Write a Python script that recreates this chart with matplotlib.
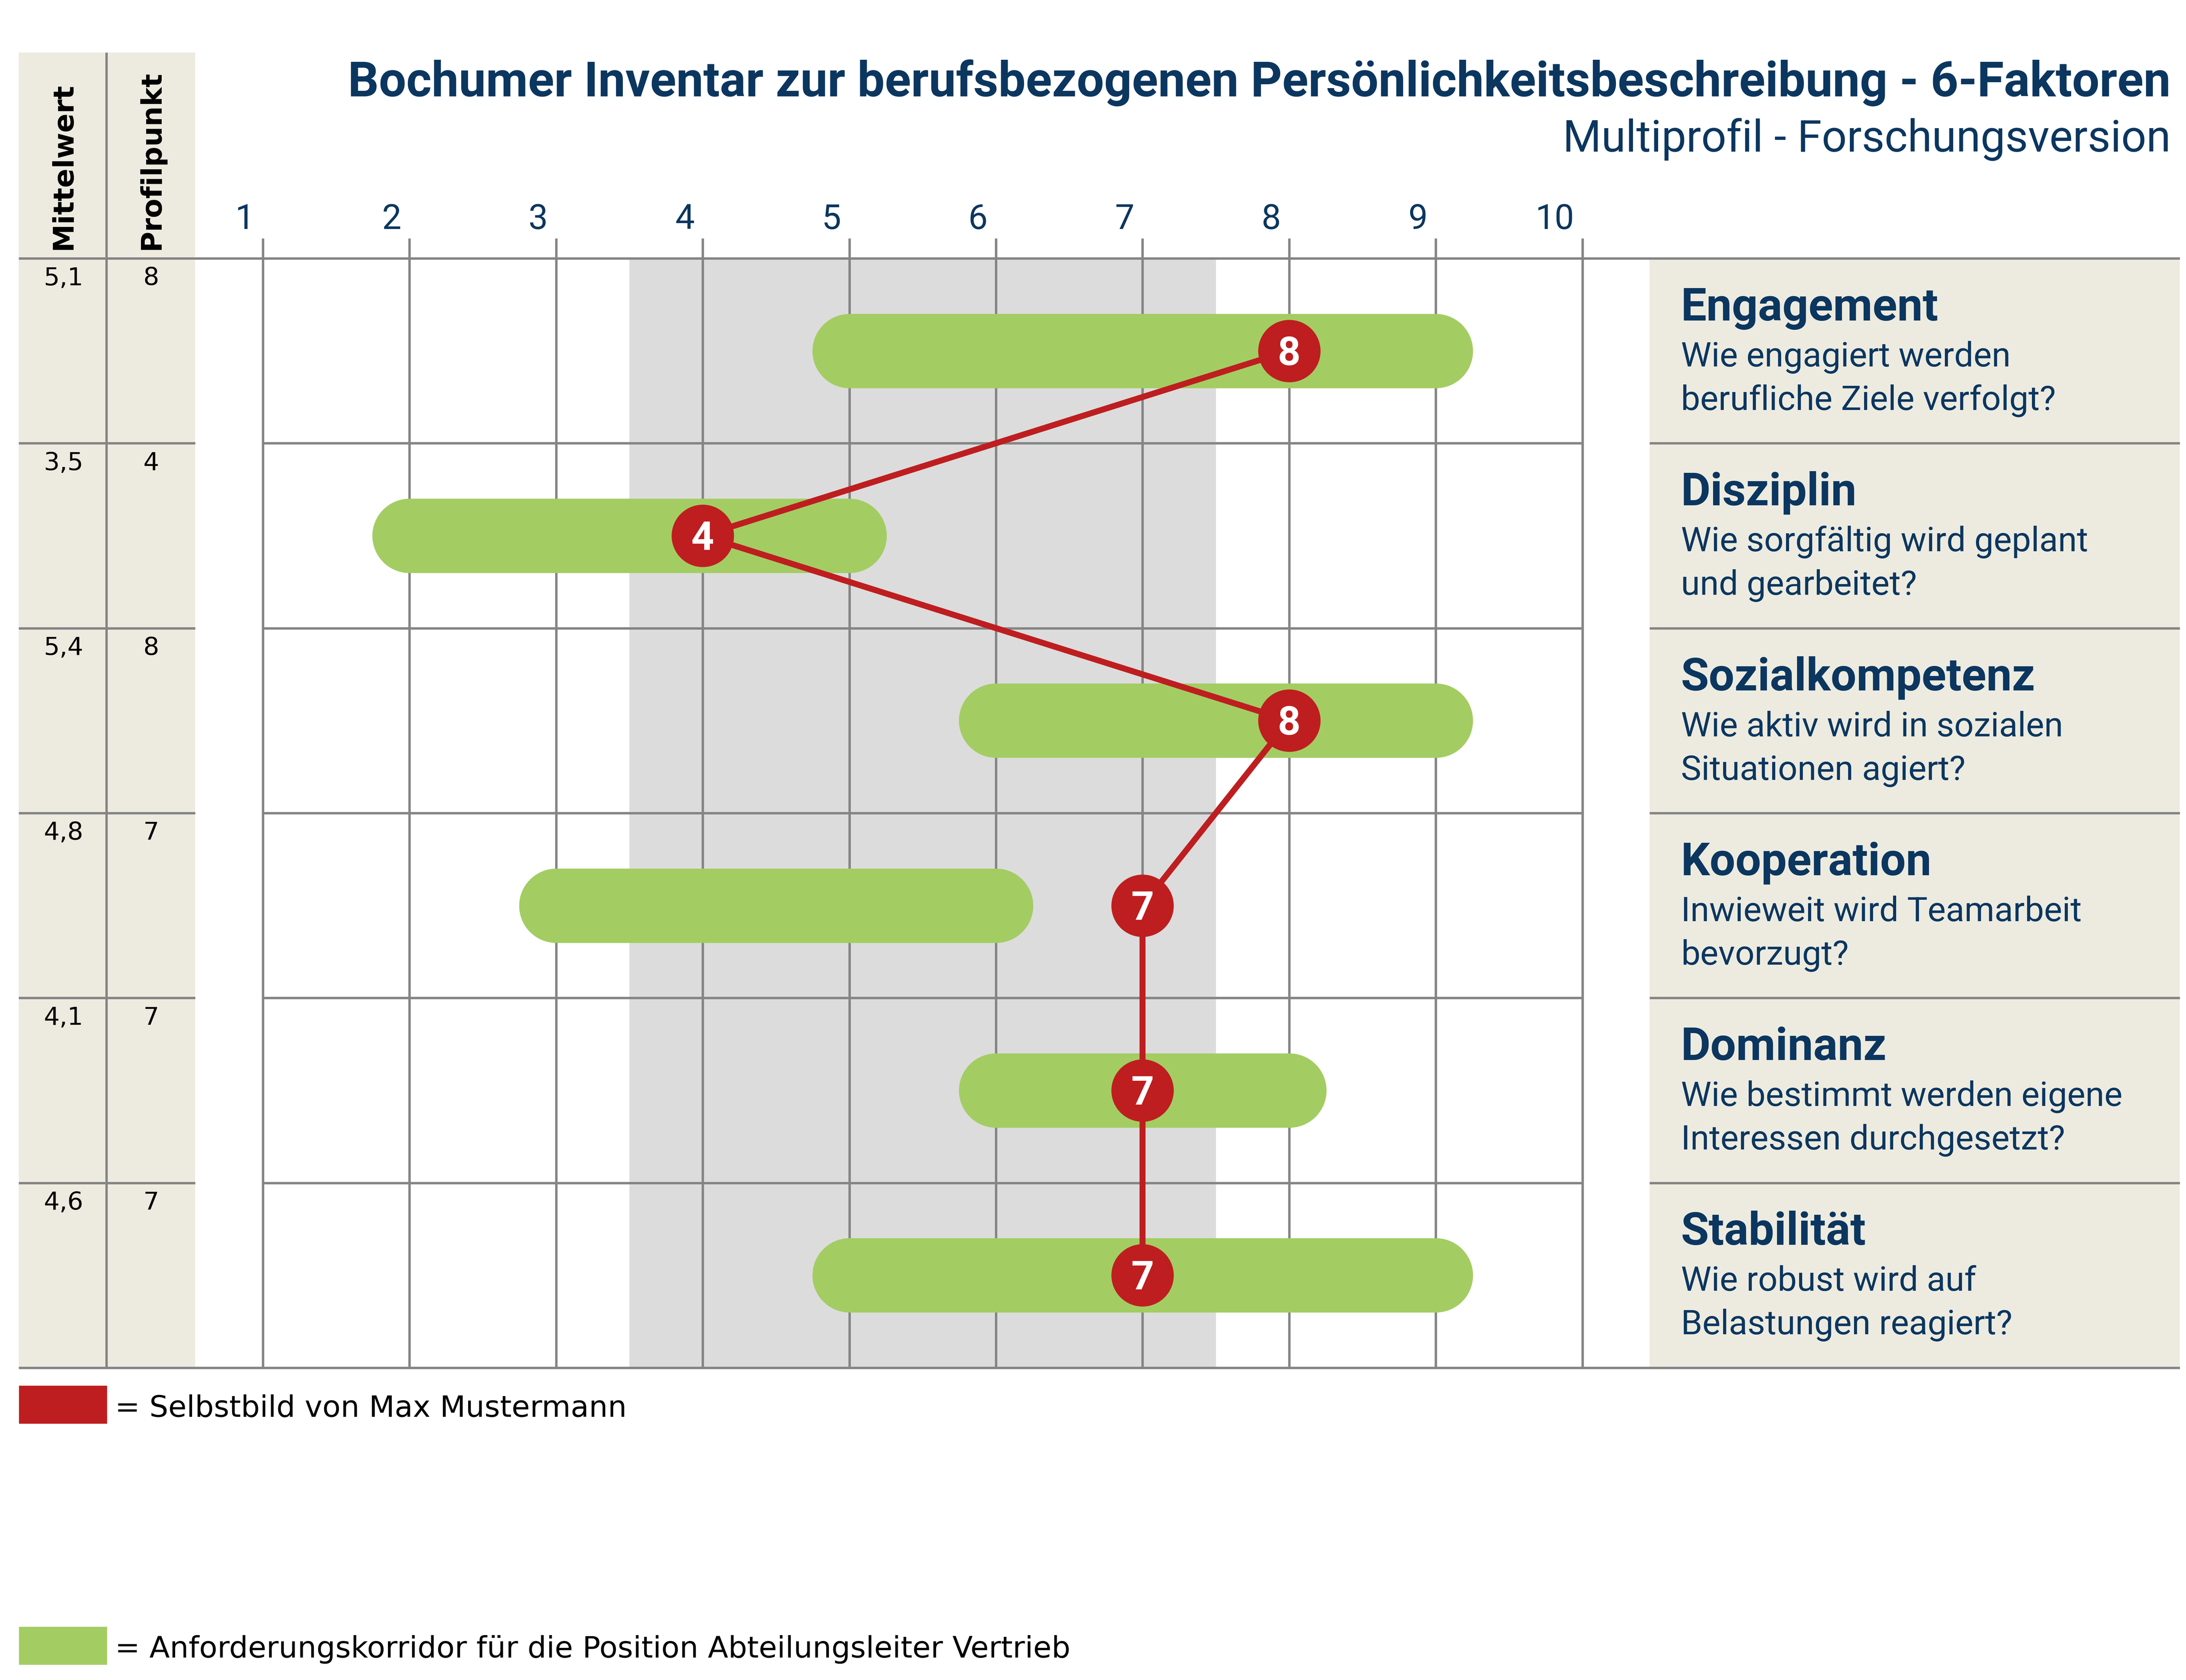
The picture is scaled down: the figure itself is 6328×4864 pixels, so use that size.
import matplotlib
matplotlib.use("Agg")
import matplotlib.pyplot as plt
from matplotlib.patches import Rectangle

# DATEN
factors = ["Engagement", "Disziplin", "Sozialkompetenz", "Kooperation", "Dominanz", "Stabilität"]
questions = [
    "Wie engagiert werden\nberufliche Ziele verfolgt?",
    "Wie sorgfältig wird geplant\nund gearbeitet?",
    "Wie aktiv wird in sozialen\nSituationen agiert?",
    "Inwieweit wird Teamarbeit\nbevorzugt?",
    "Wie bestimmt werden eigene\nInteressen durchgesetzt?",
    "Wie robust wird auf\nBelastungen reagiert?",
]
mittelwert = ["5,1", "3,5", "5,4", "4,8", "4,1", "4,6"]
profilpunkt = [8, 4, 8, 7, 7, 7]
corridor_low = [5, 2, 6, 3, 6, 5]
corridor_high = [9, 5, 9, 6, 8, 9]
scale_ticks = [1, 2, 3, 4, 5, 6, 7, 8, 9, 10]
norm_band = (3.5, 7.5)

title = "Bochumer Inventar zur berufsbezogenen Persönlichkeitsbeschreibung - 6-Faktoren"
subtitle = "Multiprofil - Forschungsversion"
legend_red = "= Selbstbild von Max Mustermann"
legend_green = "= Anforderungskorridor für die Position Abteilungsleiter Vertrieb"

# FARBEN
NAVY = "#0b365f"
GREEN = "#a3cd62"
RED = "#be1e20"
GREY_BAND = "#dcdcdc"
BEIGE = "#edebe0"
LINE = "#858585"

# LAYOUT (Pixel im Bild)
W, H = 6328, 4864
X1_PX, DX_PX = 761, 424.4   # Position von Wert 1, Abstand pro Punkt
Y0_PX, DY_PX = 748, 535.3   # Oberkante erste Zeile, Zeilenhöhe


def px_x(px):
    return 1 + (px - X1_PX) / DX_PX


def px_y(py):
    return (py - Y0_PX) / DY_PX


fig = plt.figure(figsize=(W / 100, H / 100), dpi=100)
ax = fig.add_axes([0, 0, 1, 1])
ax.set_xlim(px_x(0), px_x(W))
ax.set_ylim(px_y(H), px_y(0))
ax.axis("off")

n = len(factors)
lw_grid = 5

# Hintergründe
ax.add_patch(Rectangle((px_x(54), px_y(152)), px_x(565) - px_x(54), n - px_y(152),
                       color=BEIGE, lw=0, zorder=0))
ax.add_patch(Rectangle((px_x(4775), 0), px_x(6310) - px_x(4775), n,
                       color=BEIGE, lw=0, zorder=0))
ax.add_patch(Rectangle((norm_band[0], 0), norm_band[1] - norm_band[0], n,
                       color=GREY_BAND, lw=0, zorder=0))

# Gitter
ax.vlines(scale_ticks, px_y(690), n, color=LINE, lw=lw_grid, zorder=1)
ax.vlines(px_x(308), px_y(152), n, color=LINE, lw=lw_grid, zorder=1)
ax.hlines([0, n], px_x(54), px_x(6310), color=LINE, lw=lw_grid, zorder=1)
inner = list(range(1, n))
for a, b in [(54, 565), (761, 4581), (4775, 6310)]:
    ax.hlines(inner, px_x(a), px_x(b), color=LINE, lw=lw_grid, zorder=1)

# Skala
for t in scale_ticks:
    ax.text(t - 24 / DX_PX, px_y(663), str(t), ha="right", va="baseline",
            fontsize=72, color=NAVY, family="Roboto")

# Spaltenköpfe
ax.text(px_x(184), px_y(723), "Mittelwert", rotation=90, ha="center", va="bottom",
        fontsize=59, fontweight="bold", color="black", family="DejaVu Sans")
ax.text(px_x(439), px_y(723), "Profilpunkt", rotation=90, ha="center", va="bottom",
        fontsize=59, fontweight="bold", color="black", family="DejaVu Sans")

rows = [i + 0.5 for i in range(n)]

# Korridore
for r, lo, hi in zip(rows, corridor_low, corridor_high):
    ax.plot([lo, hi], [r, r], color=GREEN, lw=155, solid_capstyle="round", zorder=2)

# Profil
ax.plot(profilpunkt, rows, color=RED, lw=12.5, zorder=3)
ax.scatter(profilpunkt, rows, s=130 ** 2, color=RED, zorder=4, linewidths=0)
for r, p in zip(rows, profilpunkt):
    ax.text(p, r + 41 / DY_PX, str(p), ha="center", va="baseline", fontsize=83,
            fontweight="bold", color="white", family="Roboto", zorder=5)

# Tabelle links und Beschreibungen rechts
for i, (mw, pp, f, q) in enumerate(zip(mittelwert, profilpunkt, factors, questions)):
    ax.text(px_x(184), i + 58 / DY_PX, mw, ha="center", va="center", fontsize=52,
            color="black", family="DejaVu Sans")
    ax.text(px_x(437), i + 58 / DY_PX, str(pp), ha="center", va="center", fontsize=52,
            color="black", family="DejaVu Sans")
    ax.text(px_x(4866), i + 180 / DY_PX, f, ha="left", va="baseline", fontsize=95,
            fontweight="bold", color=NAVY, family="Roboto")
    l1, l2 = q.split("\n")
    ax.text(px_x(4866), i + 313 / DY_PX, l1, ha="left", va="baseline", fontsize=71.5,
            color=NAVY, family="Roboto")
    ax.text(px_x(4866), i + 439 / DY_PX, l2, ha="left", va="baseline", fontsize=71.5,
            color=NAVY, family="Roboto")

# Titel
ax.text(px_x(6284), px_y(279), title, ha="right", va="baseline", fontsize=101.2,
        fontweight="bold", color=NAVY, family="Roboto")
ax.text(px_x(6284), px_y(439), subtitle, ha="right", va="baseline", fontsize=92,
        color=NAVY, family="Roboto")

# Legende
for (top, col, txt) in [(4012, RED, legend_red), (4710, GREEN, legend_green)]:
    ax.add_patch(Rectangle((px_x(55), px_y(top)), px_x(310) - px_x(55),
                           px_y(top + 110) - px_y(top), color=col, lw=0))
    ax.text(px_x(333), px_y(top + 89), txt, ha="left", va="baseline", fontsize=62,
            color="black", family="DejaVu Sans")

fig.savefig("out.png", dpi=100)
